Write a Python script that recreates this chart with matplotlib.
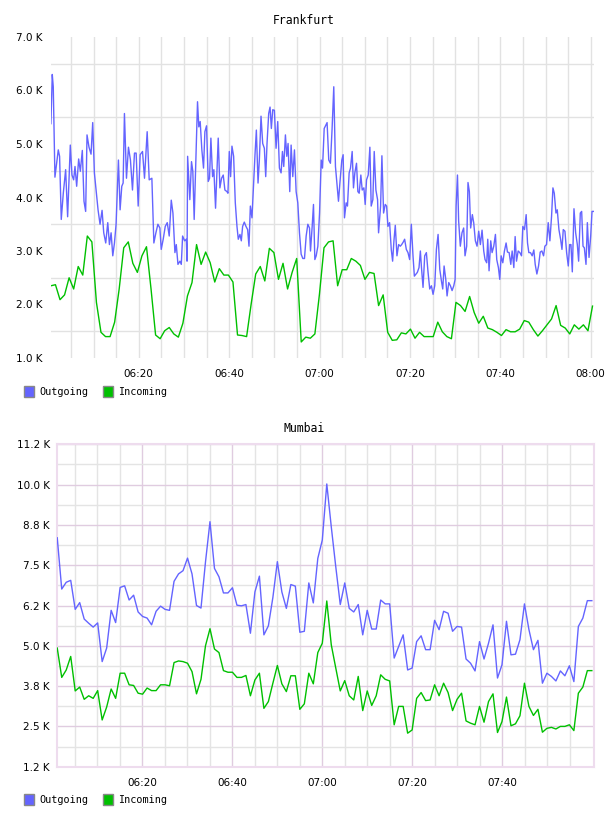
import matplotlib
matplotlib.use('Agg')
import numpy as np
import matplotlib.pyplot as plt
from matplotlib.patches import Rectangle
from matplotlib.ticker import FuncFormatter, FixedLocator

# minutes after 06:00, values in K
fra_out_t = [0.56, 0.86, 1.08, 1.45, 2.19, 2.48, 2.85, 3.30, 3.82, 4.26, 4.85, 5.22, 5.59, 5.89, 6.26, 6.70,
             7.07, 7.51, 7.88, 8.25, 8.55, 8.99, 9.44, 9.81, 10.18, 10.62, 10.99, 11.43, 11.88, 12.25, 12.69,
             13.14, 13.51, 13.88, 14.25, 14.62, 14.98, 15.50, 15.87, 16.24, 16.54, 16.83, 17.28, 17.72, 18.16,
             18.61, 19.05, 19.42, 19.87, 20.31, 20.83, 21.27, 21.86, 22.31, 22.90, 23.34, 23.79, 24.23, 24.67,
             24.97, 25.41, 25.86, 26.30, 26.74, 27.19, 27.56, 28.00, 28.30, 28.67, 29.11, 29.41, 29.70, 30.15,
             30.52, 30.68, 30.81,
             31.30, 31.67, 31.96, 32.26, 32.63, 33.00, 33.29, 33.59, 33.96, 34.33, 34.63, 35.00, 35.37, 35.66,
             35.96, 36.33, 36.62, 36.99, 37.29, 37.58, 37.95, 38.32, 38.69, 39.06, 39.51, 39.73, 40.03, 40.32,
             40.62, 40.99, 41.36, 41.73, 42.02, 42.39, 42.69, 42.98, 43.35, 43.72, 44.09, 44.39, 44.69, 45.05,
             45.42, 45.72, 46.02, 46.39, 46.68, 47.05, 47.42, 47.79, 48.09, 48.38, 48.75, 49.05, 49.34, 49.64,
             50.01, 50.38, 50.75, 51.12, 51.49, 51.79, 52.08, 52.45, 52.75, 53.04, 53.41, 53.71, 54.08, 54.45,
             54.82, 55.19, 55.56, 55.93, 56.30, 56.67, 57.04, 57.41, 57.78, 58.00, 58.37, 58.66, 58.96, 59.26,
             59.63, 60.00, 60.37, 60.66, 61.03,
             61.67, 62.04, 62.41, 62.78, 63.15, 63.52, 63.89, 64.19, 64.56, 64.93, 65.22, 65.52, 65.89, 66.18,
             66.55, 66.85, 67.22, 67.51, 67.81, 68.18, 68.48, 68.77, 69.14, 69.44, 69.81, 70.10, 70.40, 70.77,
             71.14, 71.43, 71.80, 72.10, 72.47, 72.84, 73.06, 73.51, 73.80, 74.17, 74.54, 74.84, 75.13, 75.50,
             75.87, 76.17, 76.46, 76.76, 77.13, 77.50, 77.87, 78.17, 78.54, 78.83, 79.20, 79.57, 79.94, 80.31,
             80.68, 80.98, 81.35, 81.64, 82.01, 82.31, 82.53, 82.90, 83.27, 83.64, 84.01, 84.38, 84.75, 85.12,
             85.49, 85.86, 86.23, 86.60, 86.97, 87.26, 87.56, 87.93, 88.22, 88.59, 88.96, 89.33, 89.70, 90.00,
             90.22, 90.52,
             90.78, 91.15, 91.52, 91.89, 92.19, 92.56, 92.85, 93.15, 93.44, 93.81, 94.11, 94.48, 94.85, 95.22,
             95.59, 95.96, 96.33, 96.62, 96.99, 97.22, 97.51, 97.88, 98.18, 98.55, 98.92, 99.21, 99.58, 99.88,
             100.18, 100.55, 100.91, 101.28, 101.58, 101.95, 102.32, 102.62, 102.99, 103.28, 103.58, 103.95,
             104.32, 104.69, 104.98, 105.35, 105.72, 106.02, 106.31, 106.68, 107.05, 107.42, 107.72, 108.09,
             108.46, 108.83, 109.20, 109.57, 109.86, 110.23, 110.60, 110.97, 111.34, 111.64, 111.94, 112.31,
             112.60, 112.97, 113.34, 113.64, 113.93, 114.30, 114.67, 115.04, 115.34, 115.63, 115.93, 116.30,
             116.67, 117.04, 117.33, 117.70, 118.00, 118.30, 118.59, 118.96, 119.26, 119.63, 120.00, 120.29, 120.59]
fra_out_v = [5.38, 6.30, 6.07, 4.38, 4.89, 4.77, 3.59, 4.08, 4.52, 3.64, 4.98, 4.42, 4.33, 4.58, 4.21, 4.72,
             4.49, 4.88, 3.93, 3.74, 5.17, 4.94, 4.81, 5.40, 4.46, 4.08, 3.77, 3.50, 3.76, 3.34, 3.15,
             3.53, 3.12, 3.34, 2.91, 3.15, 3.50, 4.70, 3.77, 4.21, 4.27, 5.57, 4.36, 4.94, 4.70,
             4.14, 4.83, 4.83, 3.84, 4.80, 4.86, 4.36, 5.23, 4.33, 4.36, 3.15, 3.34, 3.50, 3.43,
             3.03, 3.22, 3.46, 3.53, 3.28, 3.95, 3.71, 2.97, 3.12, 2.75, 2.81, 2.75, 3.28, 3.19,
             3.22, 2.81, 4.77,
             3.96, 4.67, 4.49, 3.59, 4.70, 5.79, 5.32, 5.42, 4.89, 4.55, 5.23, 5.34, 4.30, 4.36,
             5.11, 4.39, 4.52, 3.80, 4.46, 5.11, 4.18, 4.36, 4.42, 4.14, 4.11, 4.08, 4.86, 4.39,
             4.96, 4.77, 3.90, 3.46, 3.22, 3.31, 3.19, 3.46, 3.54, 3.46, 3.40, 3.09, 3.84, 3.62,
             4.27, 4.80, 5.26, 4.27, 4.70, 5.52, 5.01, 4.92, 4.39, 5.01, 5.57, 5.69, 5.29, 5.64,
             5.63, 4.92, 5.42, 4.55, 4.46, 4.86, 4.58, 5.17, 4.77, 5.01, 4.11, 4.98, 4.39, 4.89,
             4.11, 3.90, 3.34, 2.94, 2.86, 2.86, 3.28, 3.50, 3.43, 3.00, 3.46, 3.87, 2.84, 2.91,
             3.09, 3.71, 4.70, 4.55, 5.29,
             5.40, 4.70, 4.64, 5.29, 6.07, 4.58, 4.21, 3.93, 4.33, 4.70, 4.80, 3.62, 3.90, 3.84,
             4.46, 4.55, 4.86, 4.18, 4.46, 4.64, 4.11, 4.08, 4.42, 4.14, 4.18, 3.87, 4.33, 4.42,
             4.94, 3.84, 3.96, 4.86, 4.14, 3.96, 3.34, 3.84, 4.78, 3.71, 3.87, 3.84, 3.46, 3.53,
             3.03, 2.81, 3.19, 3.48, 2.91, 3.12, 3.09, 3.12, 3.17, 3.22, 3.03, 2.97, 2.84, 3.50,
             2.91, 2.53, 2.57, 2.60, 2.69, 3.00, 2.72, 2.32, 2.91, 2.97, 2.60, 2.29, 2.35, 2.19,
             2.35, 3.03, 3.31, 2.66, 2.44, 2.29, 2.72, 2.47, 2.16, 2.41, 2.35, 2.26, 2.35, 2.47,
             3.84, 4.42,
             3.56, 3.09, 3.34, 3.43, 2.91, 3.09, 4.28, 4.11, 3.43, 3.68, 3.53, 3.19, 3.09, 3.37,
             3.12, 3.39, 3.00, 2.84, 2.78, 3.22, 2.63, 3.19, 2.97, 3.09, 3.31, 2.84, 2.69, 2.47,
             2.91, 2.78, 3.00, 3.15, 2.98, 2.97, 2.75, 3.00, 2.69, 3.27, 2.81, 3.00,
             2.97, 2.91, 3.46, 3.40, 3.68, 3.15, 2.97, 2.97, 2.91, 3.02, 2.75, 2.57,
             2.72, 2.98, 3.00, 2.91, 3.09, 3.12, 3.53, 3.19, 3.65, 4.18, 4.08, 3.71,
             3.77, 3.40, 3.22, 3.03, 3.40, 3.37, 2.97, 2.72, 3.12, 3.12, 2.61, 3.79,
             3.34, 3.12, 2.81, 3.71, 3.74, 3.09, 3.06, 2.75, 3.53, 2.88, 3.28, 3.74, 3.74]

fra_in_v = [2.35, 2.37, 2.09, 2.18, 2.50, 2.29, 2.71, 2.55, 3.28, 3.17, 2.04, 1.48, 1.40, 1.40, 1.67, 2.29,
            3.06, 3.17, 2.77, 2.60, 2.91, 3.08, 2.29, 1.43, 1.36, 1.51, 1.57, 1.45, 1.39, 1.65, 2.16,
            2.41, 3.12, 2.75, 2.98, 2.78, 2.42, 2.67, 2.55, 2.55, 2.42, 1.43, 1.42, 1.40, 2.01, 2.57,
            2.71, 2.44, 3.05, 2.97, 2.47, 2.77, 2.29, 2.60, 2.86, 1.30, 1.39, 1.37, 1.45, 2.19, 3.06,
            3.17, 3.19, 2.35, 2.65, 2.65, 2.86, 2.81, 2.73, 2.47, 2.60, 2.58, 1.98, 2.18, 1.48, 1.33,
            1.34, 1.47, 1.45, 1.54, 1.37, 1.48, 1.40, 1.40, 1.40, 1.67, 1.49, 1.40, 1.36, 2.04, 1.98,
            1.87, 2.15, 1.85, 1.65, 1.78, 1.56, 1.53, 1.48, 1.42, 1.53, 1.49, 1.49, 1.54, 1.70, 1.67,
            1.53, 1.41, 1.51, 1.62, 1.73, 1.98, 1.61, 1.56, 1.45, 1.62, 1.54, 1.62, 1.51, 1.97]
fra_in_t = np.linspace(0.56, 120.4, len(fra_in_v))

mum_out_v = [8.35, 6.76, 6.97, 7.03, 6.13, 6.34, 5.83, 5.70, 5.58, 5.71, 4.51, 4.93, 6.10, 5.72, 6.81,
             6.86, 6.42, 6.57, 6.05, 5.91, 5.86, 5.65, 6.07, 6.23, 6.13, 6.10, 7.00, 7.23, 7.33, 7.72,
             7.23, 6.25, 6.17, 7.60, 8.85, 7.40, 7.14, 6.64, 6.64, 6.80, 6.26, 6.24, 6.28, 5.39, 6.67,
             7.16, 5.34, 5.62, 6.50, 7.61, 6.67, 6.16, 6.90, 6.85, 5.42, 5.45, 6.95, 6.33, 7.71, 8.28,
             10.02, 8.69, 7.45, 6.28, 6.95, 6.16, 6.05, 6.28, 5.34, 6.10, 5.52, 5.52, 6.42, 6.30, 6.30,
             4.62, 4.98, 5.34, 4.25, 4.31, 5.13, 5.31, 4.88, 4.88, 5.79, 5.50, 6.07, 6.01, 5.45, 5.60,
             5.58, 4.59, 4.46, 4.22, 5.13, 4.59, 5.08, 5.65, 4.00, 4.41, 5.76, 4.72, 4.74, 5.19, 6.30,
             5.50, 4.88, 5.17, 3.84, 4.15, 4.05, 3.91, 4.22, 4.07, 4.38, 3.89, 5.60, 5.86, 6.40, 6.40]
mum_in_v = [4.93, 4.02, 4.25, 4.67, 3.60, 3.72, 3.34, 3.45, 3.37, 3.61, 2.70, 3.10, 3.66, 3.37, 4.15,
            4.15, 3.79, 3.77, 3.53, 3.50, 3.69, 3.61, 3.61, 3.79, 3.79, 3.76, 4.48, 4.53, 4.51, 4.46,
            4.20, 3.51, 3.96, 5.00, 5.53, 4.90, 4.79, 4.23, 4.18, 4.18, 4.02, 4.02, 4.08, 3.45, 3.94,
            4.15, 3.06, 3.27, 3.84, 4.39, 3.82, 3.58, 4.07, 4.07, 3.03, 3.20, 4.15, 3.82, 4.79, 5.08,
            6.39, 5.03, 4.31, 3.60, 3.92, 3.45, 3.32, 4.05, 2.99, 3.60, 3.15, 3.45, 4.10, 3.96, 3.91,
            2.55, 3.12, 3.12, 2.29, 2.39, 3.37, 3.55, 3.30, 3.32, 3.79, 3.45, 3.84, 3.55, 2.99, 3.34,
            3.53, 2.67, 2.60, 2.55, 3.12, 2.63, 3.27, 3.51, 2.31, 2.65, 3.41, 2.52, 2.58, 2.83, 3.84,
            3.12, 2.84, 3.03, 2.32, 2.44, 2.47, 2.42, 2.50, 2.50, 2.55, 2.37, 3.53, 3.72, 4.23, 4.23]
mum_t = np.linspace(1.1, 119.9, len(mum_out_v))

BLUE = '#6464ff'
GREEN = '#00c000'
W, H = 608, 816

fig = plt.figure(figsize=(W / 100, H / 100), dpi=100)


def hhmm(m, pos=None):
    m = int(round(m))
    return '%02d:%02d' % (6 + m // 60, m % 60)


def kfmt(v, pos=None):
    return '%.1f K' % v


def axes_px(l, t, r, b):
    return fig.add_axes([l / W, 1 - b / H, (r - l) / W, (b - t) / H])


def legend(ytop):
    for x, c, lab in [(24, BLUE, 'Outgoing'), (103, GREEN, 'Incoming')]:
        fig.add_artist(Rectangle((x / W, 1 - (ytop + 11) / H), 10 / W, 11 / H, transform=fig.transFigure,
                                 fc=c, ec='#888888', lw=1))
        fig.text((x + 15) / W, 1 - (ytop + 6) / H, lab, fontsize=7.3, family='DejaVu Sans Mono',
                 va='center', ha='left')


# ---- Frankfurt ----
ax = axes_px(51, 37, 594, 358)
ax.plot(fra_out_t, fra_out_v, color=BLUE, lw=1.0, zorder=3)
ax.plot(fra_in_t, fra_in_v, color=GREEN, lw=1.0, zorder=3)
ax.set_xlim(0.58, 120.73)
ax.set_ylim(1.0, 7.0)
for s in ax.spines.values():
    s.set_visible(False)
ax.yaxis.set_major_locator(FixedLocator(np.arange(1, 8)))
ax.yaxis.set_minor_locator(FixedLocator(np.arange(1.5, 7, 1.0)))
ax.xaxis.set_major_locator(FixedLocator(np.arange(20, 121, 20)))
ax.xaxis.set_minor_locator(FixedLocator(np.arange(5, 121, 5)))
ax.xaxis.set_major_formatter(FuncFormatter(hhmm))
ax.yaxis.set_major_formatter(FuncFormatter(kfmt))
ax.grid(True, axis='x', which='both', color='#e2e2e2', lw=1.0)
ax.grid(True, axis='y', which='minor', color='#e2e2e2', lw=1.0)
ax.tick_params(which='both', length=0, labelsize=7.5)
ax.tick_params(axis='y', pad=6)
ax.tick_params(axis='x', pad=8)
ax.set_axisbelow(True)
fig.text(0.5, 1 - 20 / H, 'Frankfurt', ha='center', va='center', fontsize=8.3, family='DejaVu Sans Mono')
legend(386)

# ---- Mumbai ----
ax2 = axes_px(56.7, 444.3, 594, 766.7)
ax2.plot(mum_t, mum_out_v, color=BLUE, lw=1.0, zorder=3)
ax2.plot(mum_t, mum_in_v, color=GREEN, lw=1.0, zorder=3)
ax2.set_xlim(0.98, 120.38)
ax2.set_ylim(1.25, 11.25)
for s in ax2.spines.values():
    s.set_color('#eedcee')
    s.set_linewidth(1.5)
ax2.yaxis.set_major_locator(FixedLocator(np.arange(1.25, 11.3, 1.25)))
ax2.yaxis.set_minor_locator(FixedLocator(np.arange(1.875, 11.3, 1.25)))
ax2.xaxis.set_major_locator(FixedLocator(np.arange(20, 101, 20)))
ax2.xaxis.set_minor_locator(FixedLocator(np.arange(5, 120, 5)))
ax2.xaxis.set_major_formatter(FuncFormatter(hhmm))
ax2.yaxis.set_major_formatter(FuncFormatter(kfmt))
ax2.grid(True, which='major', color='#e0cce0', lw=1.0)
ax2.grid(True, which='minor', color='#e4e4e4', lw=1.0)
ax2.tick_params(which='both', length=0, labelsize=7.5)
ax2.tick_params(axis='y', pad=5)
ax2.tick_params(axis='x', pad=8)
ax2.set_axisbelow(True)
fig.text(0.5, 1 - 429 / H, 'Mumbai', ha='center', va='center', fontsize=8.3, family='DejaVu Sans Mono')
legend(794)

fig.savefig('out.png', dpi=100)
